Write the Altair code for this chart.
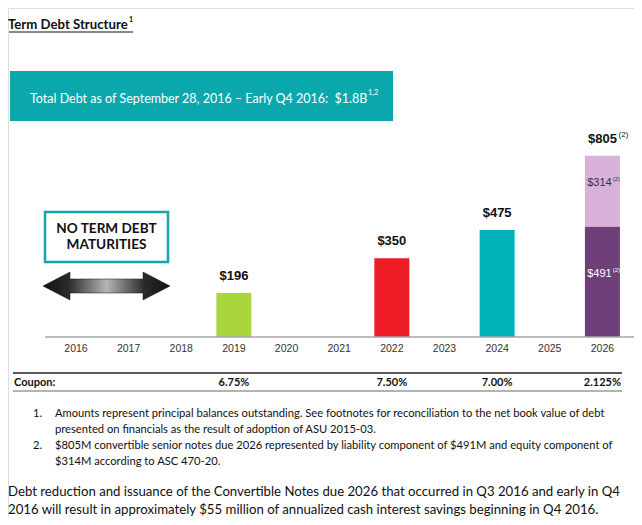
import altair as alt
import pandas as pd

# ---- data ----
years = list(range(2016, 2027))
bar_years = [2019, 2022, 2024, 2026, 2026]
bar_lo = [0, 0, 0, 0, 491]
bar_hi = [196, 350, 475, 491, 805]
bar_colors = ["#a9d63c", "#ee1d25", "#00b3ba", "#6e3f78", "#d8b2db"]

top_years = [2019, 2022, 2024, 2026]
top_values = [196, 350, 475, 805]
top_labels = ["$196", "$350", "$475", "$805"]

inner_years = [2026, 2026]
inner_mid = [245.5, 648]
inner_labels = ["$491", "$314"]
inner_colors = ["#ffffff", "#333333"]

coupon_years = [2019, 2022, 2024, 2026]
coupon_labels = ["6.75%", "7.50%", "7.00%", "2.125%"]

W, H = 626, 509
XDOM = [2014.804, 2026.505]
YDOM = [-799, 1461]
CAL = "Lato"
ARI = "Liberation Sans"

xs = alt.Scale(domain=XDOM, nice=False, zero=False)
ys = alt.Scale(domain=YDOM, nice=False, zero=False)


def txt(text, x, y, size=11, weight="normal", font=CAL, color="#111111", align="left"):
    return alt.Chart(pd.DataFrame({"t": [text]})).mark_text(
        font=font, fontSize=size, fontWeight=weight, color=color,
        align=align, baseline="middle"
    ).encode(text="t:N", x=alt.value(x), y=alt.value(y))


def rect(x, x2, y, y2, **kw):
    return alt.Chart(pd.DataFrame({"a": [0]})).mark_rect(**kw).encode(
        x=alt.value(x), x2=alt.value(x2), y=alt.value(y), y2=alt.value(y2))


def hline(x, x2, y, color, w):
    return alt.Chart(pd.DataFrame({"a": [0]})).mark_rule(color=color, strokeWidth=w).encode(
        x=alt.value(x), x2=alt.value(x2), y=alt.value(y))


bars_df = pd.DataFrame({"year": bar_years, "lo": bar_lo, "hi": bar_hi, "c": bar_colors})
bars = alt.Chart(bars_df).mark_bar(size=35).encode(
    x=alt.X("year:Q", scale=xs, axis=None),
    y=alt.Y("hi:Q", scale=ys, axis=None),
    y2="lo:Q",
    color=alt.Color("c:N", scale=None),
)

top_df = pd.DataFrame({"year": top_years, "v": top_values, "t": top_labels})
top_txt = alt.Chart(top_df).mark_text(
    font=ARI, fontSize=13, fontWeight="bold", color="#111111", dy=-17, baseline="middle"
).encode(x=alt.X("year:Q", scale=xs, axis=None), y=alt.Y("v:Q", scale=ys, axis=None), text="t:N")

sup805 = alt.Chart(pd.DataFrame({"year": [2026], "v": [805], "t": ["(2)"]})).mark_text(
    font=ARI, fontSize=8, color="#111111", dy=-21, dx=21, baseline="middle"
).encode(x=alt.X("year:Q", scale=xs, axis=None), y=alt.Y("v:Q", scale=ys, axis=None), text="t:N")

inner_df = pd.DataFrame({"year": inner_years, "v": inner_mid, "t": inner_labels, "c": inner_colors})
inner_txt = alt.Chart(inner_df).mark_text(
    font=ARI, fontSize=11, dy=-8, dx=-3, baseline="middle"
).encode(x=alt.X("year:Q", scale=xs, axis=None), y=alt.Y("v:Q", scale=ys, axis=None),
         text="t:N", color=alt.Color("c:N", scale=None))
inner_sup = alt.Chart(inner_df).mark_text(
    font=ARI, fontSize=6, dy=-12, dx=14, baseline="middle"
).encode(x=alt.X("year:Q", scale=xs, axis=None), y=alt.Y("v:Q", scale=ys, axis=None),
         text=alt.value("(2)"), color=alt.Color("c:N", scale=None))

year_df = pd.DataFrame({"year": years, "t": [str(y) for y in years]})
year_txt = alt.Chart(year_df).mark_text(
    font=ARI, fontSize=10.5, color="#333333", baseline="middle"
).encode(x=alt.X("year:Q", scale=xs, axis=None), y=alt.value(341), text="t:N")

coupon_df = pd.DataFrame({"year": coupon_years, "t": coupon_labels})
coupon_txt = alt.Chart(coupon_df).mark_text(
    font=CAL, fontSize=11, fontWeight="bold", color="#111111", baseline="middle"
).encode(x=alt.X("year:Q", scale=xs, axis=None), y=alt.value(374.5), text="t:N")

axis_line = alt.Chart(pd.DataFrame({"a": [0]})).mark_rule(color="#a6a6a6", strokeWidth=1.5).encode(
    x=alt.value(37), x2=alt.value(626), y=alt.Y("a:Q", scale=ys, axis=None))

arrow_path = ("M-1,0L-0.575,-0.22L-0.575,-0.11L0.575,-0.11L0.575,-0.22L1,0"
              "L0.575,0.22L0.575,0.11L-0.575,0.11L-0.575,0.22Z")
grad = alt.LinearGradient(
    gradient="linear", x1=0, x2=1, y1=0, y2=0,
    stops=[alt.GradientStop(color="#111111", offset=0),
           alt.GradientStop(color="#2a2a2a", offset=0.2),
           alt.GradientStop(color="#b5b5b5", offset=0.5),
           alt.GradientStop(color="#2a2a2a", offset=0.8),
           alt.GradientStop(color="#111111", offset=1)])
arrow = alt.Chart(pd.DataFrame({"a": [0]})).mark_point(
    shape=arrow_path, size=127 ** 2, filled=True, fill=grad, stroke="#111111",
    strokeWidth=0.5, opacity=1
).encode(x=alt.value(98.5), y=alt.value(278))

layers = [
    # title
    txt("Term Debt Structure", 0, 17, size=13.2, weight="bold"),
    txt("1", 121, 12, size=7, weight="bold"),
    hline(1, 125, 24, "#111111", 1),
    # banner
    rect(2, 385, 63, 113, fill="#0aa8ad"),
    txt("Total Debt as of September 28, 2016 \u2013 Early Q4 2016:\u00a0 $1.8B", 22, 91, size=12.5, color="#ffffff"),
    txt("1,2", 360, 85, size=7.5, color="#ffffff"),
    # box
    rect(37, 160, 204, 254, fill="#ffffff", stroke="#17a3a8", strokeWidth=2.5),
    txt("NO TERM DEBT", 98.5, 220.5, size=13.6, weight="bold", align="center"),
    txt("MATURITIES", 98.5, 236.5, size=13.6, weight="bold", align="center"),
    arrow,
    bars, axis_line, top_txt, sup805, inner_txt, inner_sup, year_txt,
    # coupon table
    hline(5, 614, 365, "#222222", 1.5),
    hline(5, 614, 383, "#9a9a9a", 1.5),
    txt("Coupon:", 6, 374.5, size=11, weight="bold"),
    coupon_txt,
    # footnotes
    txt("1.", 25, 406, size=11.2),
    txt("Amounts represent principal balances outstanding. See footnotes for reconciliation to the net book value of debt", 47, 406, size=11.2),
    txt("presented on financials as the result of adoption of ASU 2015-03.", 47, 422, size=11.2),
    txt("2.", 25, 438, size=11.2),
    txt("$805M convertible senior notes due 2026 represented by liability component of $491M and equity component of", 47, 438, size=11.2),
    txt("$314M according to ASC 470-20.", 47, 454, size=11.2),
    txt("Debt reduction and issuance of the Convertible Notes due 2026 that occurred in Q3 2016 and early in Q4", 0, 484, size=13.2),
    txt("2016 will result in approximately $55 million of annualized cash interest savings beginning in Q4 2016.", 0, 502, size=13.2),
]

chart = alt.layer(*layers).properties(
    width=W, height=H, padding=0, autosize=alt.AutoSizeParams(type="none")
).configure_view(stroke=None).configure(background="#ffffff")

chart.save("out.html", embed_options={"renderer": "svg", "actions": False})
